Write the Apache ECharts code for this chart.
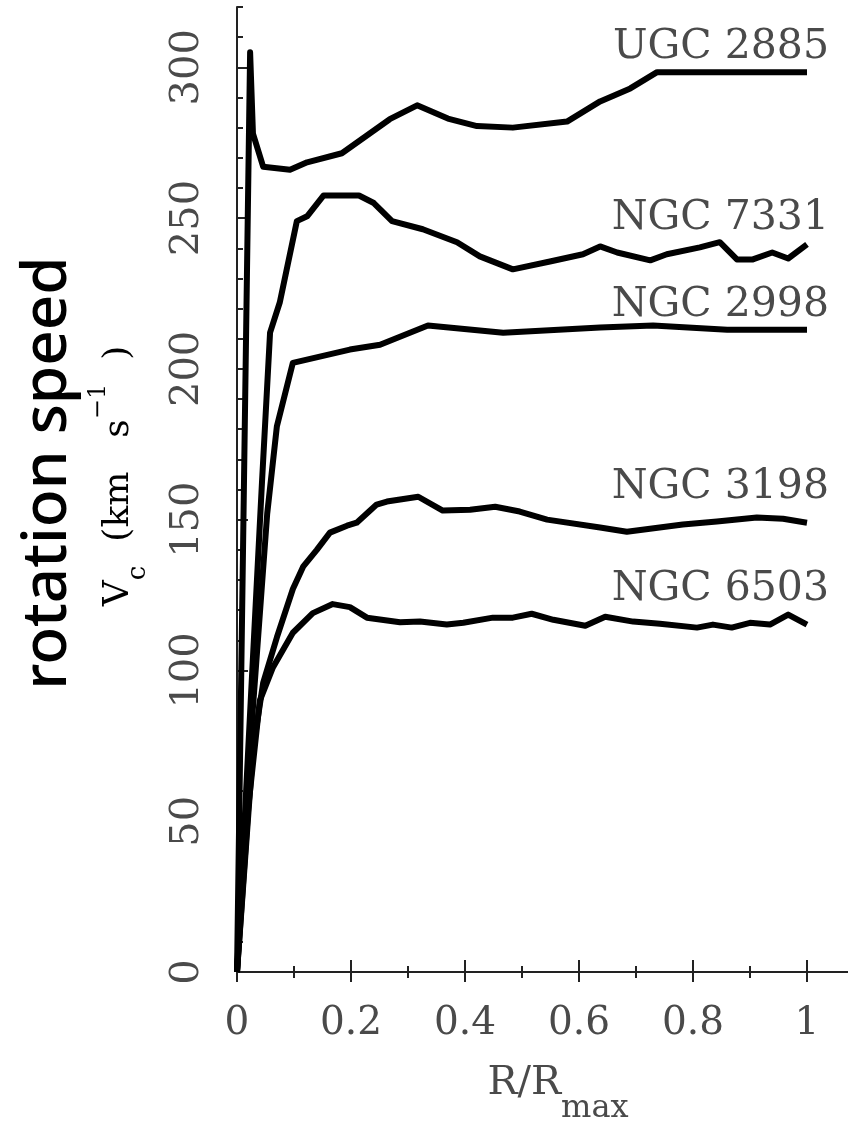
<!DOCTYPE html>
<html>
<head>
<meta charset="utf-8">
<script src="https://cdn.jsdelivr.net/npm/echarts@6/dist/echarts.min.js"></script>
<style>
  html, body { margin: 0; padding: 0; background: #fff; overflow: hidden; }
  #chart { width: 848px; height: 1124px; }
</style>
</head>
<body>
<div id="chart"></div>
<script>
// 星系名称
const galaxyNames = ['UGC 2885', 'NGC 7331', 'NGC 2998', 'NGC 3198', 'NGC 6503'];

// R/Rmax 与 Vc (km/s)
const ugc2885R = [0, 0.023, 0.028, 0.046, 0.093, 0.123, 0.184, 0.268, 0.316, 0.37, 0.421, 0.484, 0.579, 0.637, 0.69, 0.737, 1.0];
const ugc2885V = [0, 305, 278, 267, 266, 268.5, 271.5, 282.8, 287.4, 283, 280.5, 280, 282, 288.7, 293, 298.4, 298.4];

const ngc7331R = [0, 0.02, 0.044, 0.058, 0.075, 0.105, 0.123, 0.152, 0.214, 0.24, 0.272, 0.326, 0.386, 0.426, 0.484, 0.549, 0.607, 0.637, 0.667, 0.725, 0.754, 0.812, 0.847, 0.877, 0.905, 0.939, 0.967, 1.0];
const ngc7331V = [0, 75, 163, 212, 222, 249, 250.6, 257.5, 257.5, 255, 249, 246.3, 242, 237.3, 233, 235.6, 238, 240.6, 238.6, 236, 238, 240.3, 242, 236.3, 236.3, 238.6, 236.6, 241.3];

const ngc2998R = [0, 0.025, 0.053, 0.07, 0.098, 0.198, 0.251, 0.335, 0.467, 0.637, 0.73, 0.86, 1.0];
const ngc2998V = [0, 80, 152, 181, 202, 206.4, 208, 214.4, 212, 213.7, 214.4, 213, 213];

const ngc3198R = [0, 0.028, 0.046, 0.07, 0.098, 0.116, 0.14, 0.163, 0.193, 0.21, 0.245, 0.263, 0.318, 0.361, 0.409, 0.453, 0.496, 0.544, 0.637, 0.684, 0.782, 0.842, 0.912, 0.958, 1.0];
const ngc3198V = [0, 73.7, 96, 111, 127, 134.4, 140, 145.7, 148, 149, 155, 156, 157.6, 153, 153.3, 154.3, 152.7, 150, 147.4, 146, 148.4, 149.4, 150.7, 150.3, 149];

const ngc6503R = [0, 0.02, 0.04, 0.063, 0.098, 0.133, 0.168, 0.198, 0.228, 0.286, 0.321, 0.368, 0.397, 0.449, 0.484, 0.517, 0.555, 0.611, 0.646, 0.695, 0.742, 0.807, 0.835, 0.868, 0.9, 0.935, 0.967, 1.0];
const ngc6503V = [0, 55, 90, 101, 112.5, 119, 122, 121, 117.5, 116, 116.2, 115.2, 115.8, 117.5, 117.5, 118.8, 116.8, 114.8, 117.8, 116.2, 115.5, 114.2, 115.2, 114.2, 115.8, 115.2, 118.5, 115.2];

// 刻度标签
const xTickLabels = ['0', '0.2', '0.4', '0.6', '0.8', '1'];
const yTickLabels = ['0', '50', '100', '150', '200', '250', '300'];

const allR = [ugc2885R, ngc7331R, ngc2998R, ngc3198R, ngc6503R];
const allV = [ugc2885V, ngc7331V, ngc2998V, ngc3198V, ngc6503V];
// 标签相对曲线末端的竖直偏移
const labelDy = [-25, -26, -24, -35, -35];

const serif = 'DejaVu Serif';
const ink = '#222';
const textGray = '#4a4a4a';

const chart = echarts.init(document.getElementById('chart'), null, { renderer: 'canvas' });

const series = galaxyNames.map((name, i) => ({
  name: name,
  type: 'line',
  xAxisIndex: 0,
  yAxisIndex: 0,
  showSymbol: false,
  data: allR[i].map((r, k) => [r, allV[i][k]]),
  lineStyle: { color: '#000', width: 6, join: 'round' },
  endLabel: {
    show: true,
    formatter: name,
    align: 'right',
    verticalAlign: 'middle',
    distance: 0,
    offset: [22, labelDy[i]],
    fontFamily: serif,
    fontSize: 41,
    color: textGray
  },
  silent: true,
  animation: false
}));

const option = {
  animation: false,
  backgroundColor: '#fff',
  // 右侧超出画面（原图被裁切）
  grid: { left: 237, top: 7, width: 684, height: 965, outerBoundsMode: 'none', containLabel: false },
  xAxis: [{
    type: 'value',
    position: 'bottom',
    min: 0,
    max: 1.2,
    interval: 0.2,
    name: '{m|R/R}{s|max}',
    nameLocation: 'middle',
    nameGap: 70,
    nameTextStyle: {
      padding: [0, 42, 0, 0],
      rich: {
        m: { fontFamily: serif, fontSize: 40, lineHeight: 83, color: textGray },
        s: { fontFamily: serif, fontSize: 32, lineHeight: 32, color: textGray, verticalAlign: 'bottom' }
      }
    },
    axisLine: { lineStyle: { color: ink, width: 2 } },
    axisTick: { inside: true, length: 12, lineStyle: { color: ink, width: 2 } },
    minorTick: { show: true, splitNumber: 2, length: 6, lineStyle: { color: ink, width: 2 } },
    splitLine: { show: false },
    axisLabel: {
      margin: 32,
      fontFamily: serif,
      fontSize: 39,
      color: textGray,
      formatter: v => xTickLabels[Math.round(v / 0.2)] || ''
    }
  }, {
    type: 'value',
    position: 'top',
    min: 0,
    max: 1.2,
    interval: 0.2,
    axisLine: { lineStyle: { color: ink, width: 2 } },
    axisTick: { inside: true, length: 10, lineStyle: { color: ink, width: 2 } },
    minorTick: { show: true, splitNumber: 2, length: 6, lineStyle: { color: ink, width: 2 } },
    splitLine: { show: false },
    axisLabel: { show: false }
  }],
  yAxis: [{
    type: 'value',
    position: 'left',
    min: 0,
    max: 320,
    interval: 50,
    axisLine: { lineStyle: { color: ink, width: 2 } },
    axisTick: { inside: true, length: 11, lineStyle: { color: ink, width: 2 } },
    splitLine: { show: false },
    axisLabel: {
      rotate: 90,
      margin: 29,
      fontFamily: serif,
      fontSize: 40,
      color: textGray,
      showMaxLabel: false,
      formatter: v => yTickLabels[Math.round(v / 50)] || ''
    }
  }, {
    type: 'value',
    position: 'left',
    min: 0,
    max: 320,
    interval: 10,
    axisLine: { show: false },
    axisTick: { show: true, inside: true, length: 6, lineStyle: { color: ink, width: 2 } },
    splitLine: { show: false },
    axisLabel: { show: false }
  }],
  graphic: [{
    type: 'text',
    x: 48,
    y: 473,
    rotation: Math.PI / 2,
    style: {
      text: 'rotation speed',
      fontFamily: 'Noto Sans',
      fontWeight: 500,
      fontSize: 62,
      fill: '#000',
      align: 'center',
      verticalAlign: 'middle'
    }
  }, {
    type: 'text',
    x: 119,
    y: 476,
    rotation: Math.PI / 2,
    style: {
      text: '{m|V}{s|c}{g|}{m|(km}{h|}{m|s}{p|−1}{g|}{m|)}',
      align: 'center',
      verticalAlign: 'middle',
      rich: {
        m: { fontFamily: serif, fontSize: 36, lineHeight: 65, color: textGray },
        s: { fontFamily: serif, fontSize: 26, lineHeight: 26, verticalAlign: 'bottom', color: textGray },
        p: { fontFamily: serif, fontSize: 24, lineHeight: 20, verticalAlign: 'top', color: textGray },
        g: { width: 24 },
        h: { width: 34 }
      }
    }
  }],
  series: series
};

chart.setOption(option);
</script>
</body>
</html>
